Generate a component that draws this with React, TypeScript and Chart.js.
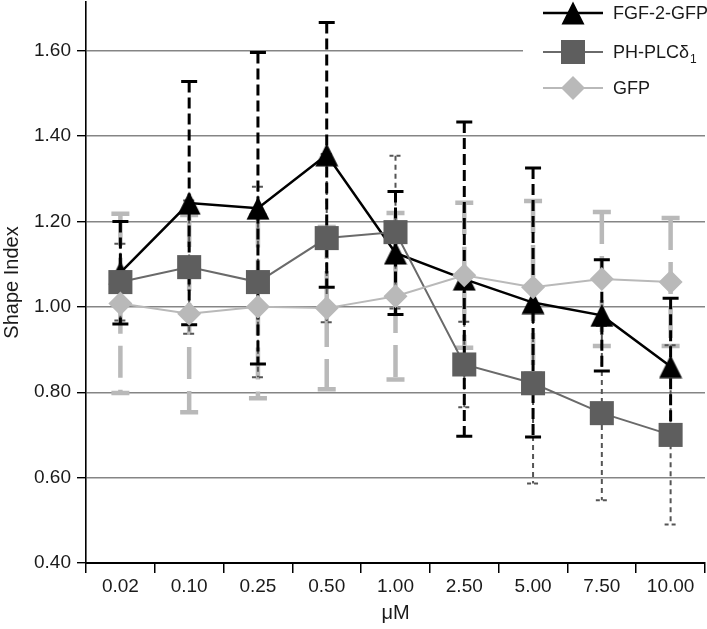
import React, { useEffect, useRef } from "react";
import { Chart, registerables } from "chart.js";
import { drawPoint } from "chart.js/helpers";

Chart.register(...registerables);

// ---------- DATA ----------
const categories = ["0.02", "0.10", "0.25", "0.50", "1.00", "2.50", "5.00", "7.50", "10.00"];
const fgfValues = [1.08, 1.243, 1.231, 1.356, 1.126, 1.065, 1.01, 0.98, 0.86];
const fgfErrors = [0.12, 0.285, 0.365, 0.31, 0.144, 0.368, 0.315, 0.13, 0.16];
const phValues = [1.058, 1.093, 1.058, 1.161, 1.175, 0.865, 0.821, 0.751, 0.7];
const phErrors = [0.09, 0.156, 0.223, 0.197, 0.179, 0.1, 0.235, 0.204, 0.21];
const gfpValues = [1.008, 0.984, 1.0, 0.997, 1.025, 1.074, 1.046, 1.065, 1.058];
const gfpErrors = [0.21, 0.231, 0.214, 0.19, 0.195, 0.17, 0.202, 0.157, 0.15];
const yTicks = [0.4, 0.6, 0.8, 1.0, 1.2, 1.4, 1.6];
const seriesNames = ["FGF-2-GFP", "PH-PLCδ", "GFP"];
const phSubscript = "1";
const xTitle = "μM";
const yTitle = "Shape Index";

// ---------- STYLES ----------
const FONT = "'Liberation Sans', Arial, sans-serif";
const TEXT = "#1a1a1a";
const seriesStyle = [
  { line: "#000000", fill: "#000000", lineWidth: 2.5 },
  { line: "#6a6a6a", fill: "#5e5e5e", lineWidth: 2 },
  { line: "#b9b9b9", fill: "#b9b9b9", lineWidth: 2 },
];
const barStyle = [
  { color: "#000000", width: 3, dash: [11, 5], cap: 8, capDash: [] as number[] },
  { color: "#555555", width: 2, dash: [5, 4], cap: 6, capDash: [4, 3] },
  { color: "#b9b9b9", width: 4.5, dash: [32, 12], cap: 9, capDash: [] as number[] },
];

function makeTriangle(): HTMLCanvasElement {
  const c = document.createElement("canvas");
  c.width = 24;
  c.height = 24;
  const g = c.getContext("2d")!;
  g.fillStyle = "#000";
  g.beginPath();
  g.moveTo(12, 0.5);
  g.lineTo(23.5, 23.5);
  g.lineTo(0.5, 23.5);
  g.closePath();
  g.fill();
  return c;
}

export default function App() {
  const ref = useRef<HTMLCanvasElement | null>(null);

  useEffect(() => {
    if (!ref.current) return;
    const tri = makeTriangle();
    const errorSets = [fgfErrors, phErrors, gfpErrors];

    const errorBarPlugin = {
      id: "errorBars",
      beforeDatasetsDraw(chart: any) {
        const { ctx, scales } = chart;
        const x = scales.x;
        const y = scales.y;
        [2, 1, 0].forEach((di) => {
          const ds = chart.data.datasets[di];
          const st = barStyle[di];
          const errs = errorSets[di];
          ctx.save();
          ctx.strokeStyle = st.color;
          ctx.lineWidth = st.width;
          ds.data.forEach((v: number, i: number) => {
            const e = errs[i];
            const px = x.getPixelForValue(i);
            const yt = y.getPixelForValue(v + e);
            const yb = y.getPixelForValue(v - e);
            ctx.setLineDash(st.dash);
            ctx.beginPath();
            ctx.moveTo(px, yt);
            ctx.lineTo(px, yb);
            ctx.stroke();
            ctx.setLineDash(st.capDash);
            ctx.beginPath();
            ctx.moveTo(px - st.cap, yt);
            ctx.lineTo(px + st.cap, yt);
            ctx.moveTo(px - st.cap, yb);
            ctx.lineTo(px + st.cap, yb);
            ctx.stroke();
          });
          ctx.restore();
        });
      },
    };

    const legendPlugin = {
      id: "customLegend",
      afterDraw(chart: any) {
        const ctx = chart.ctx;
        ctx.save();
        ctx.fillStyle = "#ffffff";
        ctx.fillRect(523, 0, 184, 106);
        const rows = [13, 52, 88];
        const markers: any[] = [
          { pointStyle: tri, radius: 12, rotation: 0, borderWidth: 0 },
          { pointStyle: "rect", radius: 17, rotation: 0, borderWidth: 0 },
          { pointStyle: "rectRot", radius: 12, rotation: 0, borderWidth: 0 },
        ];
        rows.forEach((ry, i) => {
          ctx.strokeStyle = seriesStyle[i].line;
          ctx.lineWidth = seriesStyle[i].lineWidth;
          ctx.beginPath();
          ctx.moveTo(543, ry);
          ctx.lineTo(603, ry);
          ctx.stroke();
          ctx.fillStyle = seriesStyle[i].fill;
          ctx.strokeStyle = seriesStyle[i].fill;
          drawPoint(ctx, markers[i], 573, ry);
          ctx.fillStyle = TEXT;
          ctx.font = `18px ${FONT}`;
          ctx.textAlign = "left";
          ctx.textBaseline = "middle";
          ctx.fillText(seriesNames[i], 613, ry + 1);
          if (i === 1) {
            const w = ctx.measureText(seriesNames[i]).width;
            ctx.font = `12px ${FONT}`;
            ctx.fillText(phSubscript, 613 + w + 1, ry + 8);
          }
        });
        ctx.restore();
      },
    };

    const mk = (i: number, data: number[], order: number, pt: any, r: number) => ({
      label: seriesNames[i],
      data,
      order,
      borderColor: seriesStyle[i].line,
      borderWidth: seriesStyle[i].lineWidth,
      backgroundColor: seriesStyle[i].fill,
      pointStyle: pt,
      pointRadius: r,
      pointHoverRadius: r,
      pointBackgroundColor: seriesStyle[i].fill,
      pointBorderColor: seriesStyle[i].fill,
      pointBorderWidth: 0,
      fill: false,
      tension: 0,
      clip: false as any,
    });

    const chart = new Chart(ref.current, {
      type: "line",
      data: {
        labels: categories,
        datasets: [
          mk(0, fgfValues, 2, tri, 12),
          mk(1, phValues, 1, "rect", 17),
          mk(2, gfpValues, 0, "rectRot", 12),
        ],
      },
      options: {
        responsive: false,
        maintainAspectRatio: false,
        animation: false,
        layout: { autoPadding: false, padding: { top: 2, right: 2, left: 0, bottom: 0 } },
        plugins: {
          legend: { display: false },
          tooltip: { enabled: false },
        },
        scales: {
          x: {
            type: "category",
            offset: true,
            grid: {
              offset: true,
              drawOnChartArea: false,
              tickLength: 10,
              tickColor: "#000",
              lineWidth: 1.5,
            },
            border: { color: "#000", width: 2 },
            ticks: {
              color: TEXT,
              font: { family: FONT, size: 19 },
              padding: 2,
              maxRotation: 0,
            },
            title: {
              display: true,
              text: xTitle,
              color: TEXT,
              font: { family: FONT, size: 20 },
              padding: { top: 0, bottom: 4 },
            },
            afterFit(scale: any) {
              scale.height = 66;
              scale.paddingLeft = 0;
              scale.paddingRight = 0;
            },
          },
          y: {
            type: "linear",
            min: 0.4,
            max: 1.714,
            afterBuildTicks(scale: any) {
              scale.ticks = yTicks.map((v) => ({ value: v }));
            },
            grid: {
              color: (c: any) => (c.tick && c.tick.value === 0.4 ? "rgba(0,0,0,0)" : "#858585"),
              lineWidth: 1.4,
              tickLength: 9,
              tickColor: "#000",
            },
            border: { color: "#000", width: 1.6 },
            ticks: {
              color: TEXT,
              font: { family: FONT, size: 19 },
              padding: 6,
              callback: (v: any) => Number(v).toFixed(2),
            },
            title: {
              display: true,
              text: yTitle,
              color: TEXT,
              font: { family: FONT, size: 20 },
              padding: { top: 0, bottom: 0 },
            },
            afterFit(scale: any) {
              scale.width = 86;
              scale.paddingTop = 0;
              scale.paddingBottom = 0;
            },
          },
        },
      },
      plugins: [errorBarPlugin, legendPlugin],
    });
    return () => chart.destroy();
  }, []);

  return (
    <div style={{ position: "fixed", left: 0, top: 0, width: 707, height: 629, background: "#fff" }}>
      <canvas ref={ref} width={707} height={629} style={{ display: "block" }} />
    </div>
  );
}
